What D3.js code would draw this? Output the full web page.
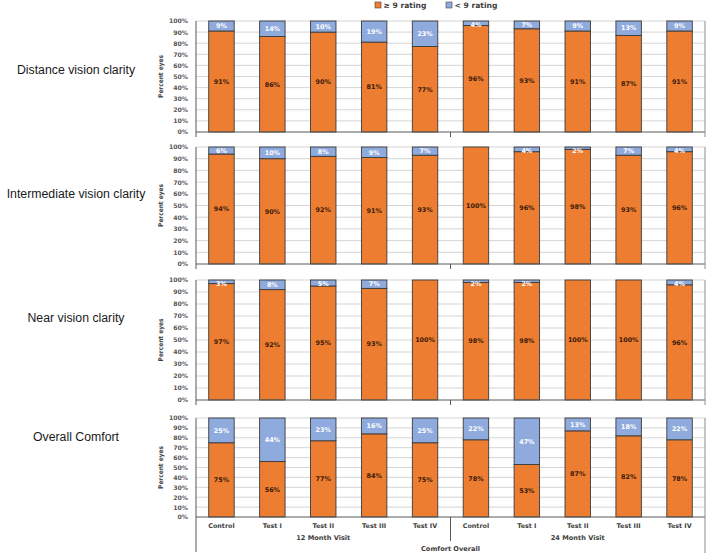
<!DOCTYPE html>
<html><head><meta charset="utf-8">
<script src="https://cdn.jsdelivr.net/npm/d3@7"></script>
<style>body{margin:0;background:#fff}svg{display:block}</style>
</head><body>
<script>
// ---- data ----
const categories = ["Control","Test I","Test II","Test III","Test IV","Control","Test I","Test II","Test III","Test IV"];
const visitGroups = ["12 Month Visit","24 Month Visit"];
const overallLabel = "Comfort Overall";
const rowLabels = ["Distance vision clarity","Intermediate vision clarity","Near vision clarity","Overall Comfort"];
const seriesNames = ["\u2265 9 rating","< 9 rating"];
const distanceHigh = [91,86,90,81,77,96,93,91,87,91];
const distanceLow  = [9,14,10,19,23,4,7,9,13,9];
const intermediateHigh = [94,90,92,91,93,100,96,98,93,96];
const intermediateLow  = [6,10,8,9,7,0,4,2,7,4];
const nearHigh = [97,92,95,93,100,98,98,100,100,96];
const nearLow  = [3,8,5,7,0,2,2,0,0,4];
const comfortHigh = [75,56,77,84,75,78,53,87,82,78];
const comfortLow  = [25,44,23,16,25,22,47,13,18,22];
const yTicks = [0,10,20,30,40,50,60,70,80,90,100];
const yTitle = "Percent eyes";

const rows = [
  {label: rowLabels[0], high: distanceHigh, low: distanceLow},
  {label: rowLabels[1], high: intermediateHigh, low: intermediateLow},
  {label: rowLabels[2], high: nearHigh, low: nearLow},
  {label: rowLabels[3], high: comfortHigh, low: comfortLow}
];

// ---- layout ----
const W = 709, H = 553;
const panelTop = [21,147,280,418];
const panelBottom = [132,264,400,517];
const rowLabelY = [70,194,318,437];
const plotLeft = 196, plotRight = 705;
const ORANGE = "#ED7D31", BLUE = "#8FAADC";
const TXT = "#404040";
const boldFont = "DejaVu Sans, Verdana, sans-serif";

const svg = d3.select("body").append("svg").attr("width", W).attr("height", H);

const x = d3.scaleBand().domain(d3.range(categories.length))
  .range([plotLeft, plotRight]).paddingInner(0.5).paddingOuter(0.25);

// legend
const legend = svg.append("g").attr("font-family", boldFont).attr("font-weight","bold")
  .attr("font-size", 7.6).attr("fill", TXT);
const legX = [375, 446];
[ORANGE, BLUE].forEach((c,i)=>{
  legend.append("rect").attr("x", legX[i]).attr("y", 2).attr("width", 6).attr("height", 6)
    .attr("fill", c).attr("stroke", "#404040").attr("stroke-width", 0.6);
  legend.append("text").attr("x", legX[i]+8.5).attr("y", 7.8).text(seriesNames[i]);
});

rows.forEach((row, r) => {
  const top = panelTop[r], bot = panelBottom[r];
  const y = d3.scaleLinear().domain([0,100]).range([bot, top]);
  const g = svg.append("g");

  // row label
  svg.append("text").attr("x", 76).attr("y", rowLabelY[r]).attr("dy","0.35em")
    .attr("text-anchor","middle").attr("font-family","Liberation Sans, Arial, sans-serif")
    .attr("font-size", 12.3).attr("fill","#1a1a1a").text(row.label);

  // gridlines
  g.selectAll("line.grid").data(yTicks.filter(d=>d>0)).join("line")
    .attr("x1", plotLeft).attr("x2", plotRight)
    .attr("y1", d=>y(d)).attr("y2", d=>y(d))
    .attr("stroke", "#d0d0d0").attr("stroke-width", 0.9);

  // y axis labels
  const ax = g.append("g").attr("transform", `translate(${plotLeft},0)`)
    .call(d3.axisLeft(y).tickValues(yTicks).tickFormat(d=>d+"%").tickSize(0).tickPadding(8));
  ax.select(".domain").remove();
  ax.selectAll("text").attr("font-family", boldFont).attr("font-weight","bold")
    .attr("font-size", 6.2).attr("fill", "#595959");

  // y title
  svg.append("text").attr("transform", `translate(163,${(top+bot)/2}) rotate(-90)`)
    .attr("text-anchor","middle").attr("font-family","DejaVu Sans Condensed, DejaVu Sans, sans-serif")
    .attr("font-weight","bold").attr("font-size", 6.5).attr("fill", TXT).text(yTitle);

  // bars
  const bw = x.bandwidth();
  const data = categories.map((c,i)=>({i, hi: row.high[i], lo: row.low[i]}));
  g.selectAll("rect.hi").data(data).join("rect")
    .attr("x", d=>x(d.i)).attr("width", bw)
    .attr("y", d=>y(d.hi)).attr("height", d=>y(0)-y(d.hi))
    .attr("fill", ORANGE).attr("stroke", "#3a3a3a").attr("stroke-width", 0.9);
  g.selectAll("rect.lo").data(data.filter(d=>d.lo>0)).join("rect")
    .attr("x", d=>x(d.i)).attr("width", bw)
    .attr("y", d=>y(d.hi+d.lo)).attr("height", d=>y(d.hi)-y(d.hi+d.lo))
    .attr("fill", BLUE).attr("stroke", "#3a3a3a").attr("stroke-width", 0.9);

  // labels
  g.selectAll("text.hi").data(data).join("text")
    .attr("x", d=>x(d.i)+bw/2).attr("y", d=>y(d.hi/2)).attr("dy","0.35em")
    .attr("text-anchor","middle").attr("font-family", boldFont).attr("font-weight","bold")
    .attr("font-size", 6.4).attr("fill", "#3b1a08").text(d=>d.hi+"%");
  g.selectAll("text.lo").data(data.filter(d=>d.lo>0)).join("text")
    .attr("x", d=>x(d.i)+bw/2)
    .attr("y", d=>Math.max(y(d.hi + d.lo/2), top+4)).attr("dy","0.35em")
    .attr("text-anchor","middle").attr("font-family", boldFont).attr("font-weight","bold")
    .attr("font-size", 6.4).attr("fill", "#ffffff").text(d=>d.lo+"%");

  // axes frame
  const last = r === rows.length-1;
  g.append("line").attr("x1", plotLeft).attr("x2", plotLeft).attr("y1", top)
    .attr("y2", last ? H-1 : bot+5).attr("stroke", "#595959").attr("stroke-width", 1);
  g.append("line").attr("x1", plotLeft).attr("x2", plotRight).attr("y1", bot).attr("y2", bot)
    .attr("stroke", "#595959").attr("stroke-width", 1);
  g.append("line").attr("x1", plotRight).attr("x2", plotRight).attr("y1", top)
    .attr("y2", last ? H : bot+5).attr("stroke", "#8c8c8c").attr("stroke-width", 1);
  const sep = x(5) - x.step()*x.paddingInner()/2;
  g.append("line").attr("x1", sep).attr("x2", sep).attr("y1", bot)
    .attr("y2", last ? bot+24 : bot+5).attr("stroke", "#595959").attr("stroke-width", 1);

  if (last) {
    const xl = svg.append("g").attr("font-family", boldFont).attr("font-weight","bold")
      .attr("fill", TXT);
    xl.selectAll("text.cat").data(categories).join("text")
      .attr("x", (d,i)=>x(i)+bw/2).attr("y", bot+10.5).attr("text-anchor","middle")
      .attr("font-size", 6.4).text(d=>d);
    visitGroups.forEach((v,k)=>{
      const x0 = k===0 ? plotLeft : sep, x1 = k===0 ? sep : plotRight;
      xl.append("text").attr("x", (x0+x1)/2).attr("y", bot+22.5).attr("text-anchor","middle")
        .attr("font-size", 6.6).text(v);
    });
    xl.append("text").attr("x", (plotLeft+plotRight)/2).attr("y", bot+33.5).attr("text-anchor","middle")
      .attr("font-size", 6.6).text(overallLabel);
  }
});
</script>
</body></html>
